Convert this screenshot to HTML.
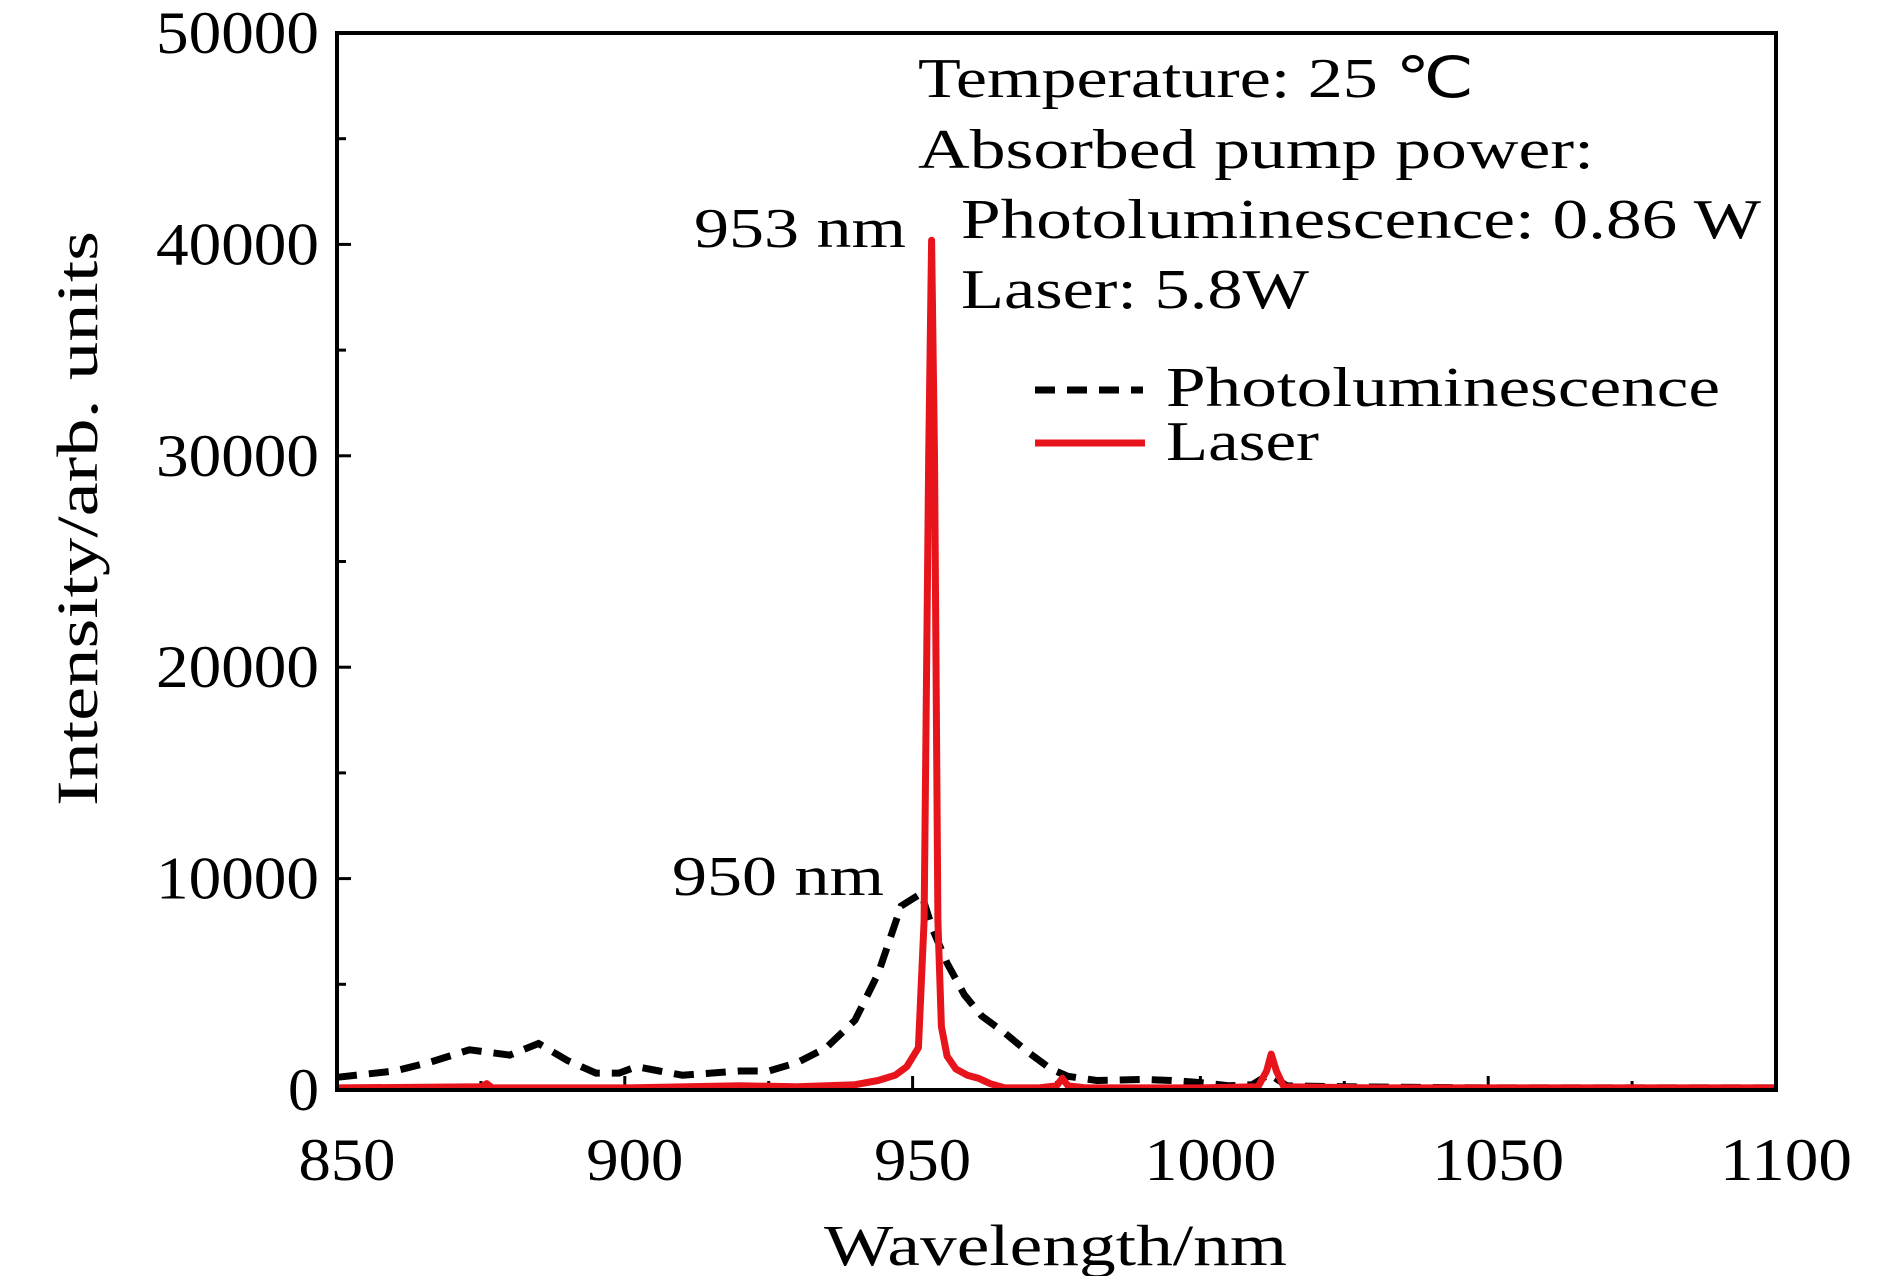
<!DOCTYPE html>
<html><head><meta charset="utf-8"><style>
html,body{margin:0;padding:0;background:#fff;}
svg{display:block;}
text{font-family:"Liberation Serif",serif;fill:#000;}
</style></head><body>
<svg id="s" width="1890" height="1276" viewBox="0 0 1890 1276" xmlns="http://www.w3.org/2000/svg">
<g id="ticks" stroke="#000" stroke-width="3"></g>
<path id="pl" fill="none" stroke="#000" stroke-width="7" stroke-dasharray="20 12"/>
<path id="la" fill="none" stroke="#e8141c" stroke-width="7" stroke-linejoin="round"/>
<rect x="337" y="33" width="1439" height="1057" fill="none" stroke="#000" stroke-width="4"/>
<g font-size="60" id="ylab"></g>
<g font-size="60" id="xlab"></g>
<text x="824" y="1265" font-size="58" textLength="463" lengthAdjust="spacingAndGlyphs">Wavelength/nm</text>
<text transform="translate(97,806) rotate(-90)" font-size="58" textLength="575" lengthAdjust="spacingAndGlyphs">Intensity/arb. units</text>
<g font-size="56">
<text x="918" y="97" textLength="556" lengthAdjust="spacingAndGlyphs">Temperature: 25 ℃</text>
<text x="918" y="168" textLength="676" lengthAdjust="spacingAndGlyphs">Absorbed pump power:</text>
<text x="961" y="238" textLength="800" lengthAdjust="spacingAndGlyphs">Photoluminescence: 0.86 W</text>
<text x="961" y="308" textLength="348" lengthAdjust="spacingAndGlyphs">Laser: 5.8W</text>
<text x="1166" y="406" textLength="554" lengthAdjust="spacingAndGlyphs">Photoluminescence</text>
<text x="1166" y="460" textLength="153" lengthAdjust="spacingAndGlyphs">Laser</text>
<text x="694" y="247" textLength="212" lengthAdjust="spacingAndGlyphs">953 nm</text>
<text x="672" y="895" textLength="212" lengthAdjust="spacingAndGlyphs">950 nm</text>
</g>
<line x1="1035" y1="390" x2="1143" y2="390" stroke="#000" stroke-width="7" stroke-dasharray="20 12"/>
<line x1="1035" y1="443" x2="1145" y2="443" stroke="#e8141c" stroke-width="7"/>
</svg>
<script>
const X=n=>337+(n-850)*5.756, Y=v=>1090-v*0.02114;
const ns="http://www.w3.org/2000/svg";
function el(p,t,a,txt){const e=document.createElementNS(ns,t);for(const k in a)e.setAttribute(k,a[k]);if(txt)e.textContent=txt;document.getElementById(p).appendChild(e);}
for(let n=850;n<=1100;n+=25){const x=X(n),L=n%50==0?14:9;el('ticks','line',{x1:x,y1:1090,x2:x,y2:1090-L});
 if(n%50==0){const s=String(n),w=s.length==3?97:132;el('xlab','text',{x:x-w/2+10,y:1180,textLength:w,lengthAdjust:'spacingAndGlyphs'},s);}}
for(let v=0;v<=50000;v+=5000){const y=Y(v),L=v%10000==0?14:9;el('ticks','line',{x1:337,y1:y,x2:337+L,y2:y});
 if(v%10000==0){const s=String(v),w=v==0?31:163;el('ylab','text',{x:319-w,y:y+20,textLength:w,lengthAdjust:'spacingAndGlyphs'},s);}}
const pl=[[850,600],[860,900],[866,1300],[873,1900],[880,1650],[885,2200],[890,1400],[895,800],[899,800],[902,1100],[906,900],[910,700],[915,800],[920,900],[925,900],[930,1300],[935,2000],[940,3300],[944,5500],[948,8700],[951.5,9300],[953.5,7600],[956,6000],[959,4500],[962,3500],[966,2700],[970,1800],[974,1000],[977,650],[982,450],[990,500],[995,450],[1000,350],[1005,200],[1009,250],[1012,750],[1015,200],[1025,150],[1050,100],[1100,100]];
const la=[[850,100],[875,150],[876,300],[877,100],[900,100],[920,200],[930,150],[940,250],[944,450],[947,700],[949,1100],[951,2000],[952,8000],[952.8,30000],[953.3,40200],[953.8,30000],[954.4,8000],[955,3000],[956,1600],[957.5,1000],[959.5,700],[961.5,550],[963.5,300],[966,100],[972,100],[975,200],[976,550],[977,200],[980,100],[1000,100],[1010,150],[1011.5,900],[1012.3,1700],[1013.2,900],[1014.5,150],[1030,100],[1100,100]];
const d=a=>a.map((p,i)=>(i?'L':'M')+X(p[0]).toFixed(1)+' '+Y(p[1]).toFixed(1)).join(' ');
document.getElementById('pl').setAttribute('d',d(pl));
document.getElementById('la').setAttribute('d',d(la));
</script>
</body></html>
